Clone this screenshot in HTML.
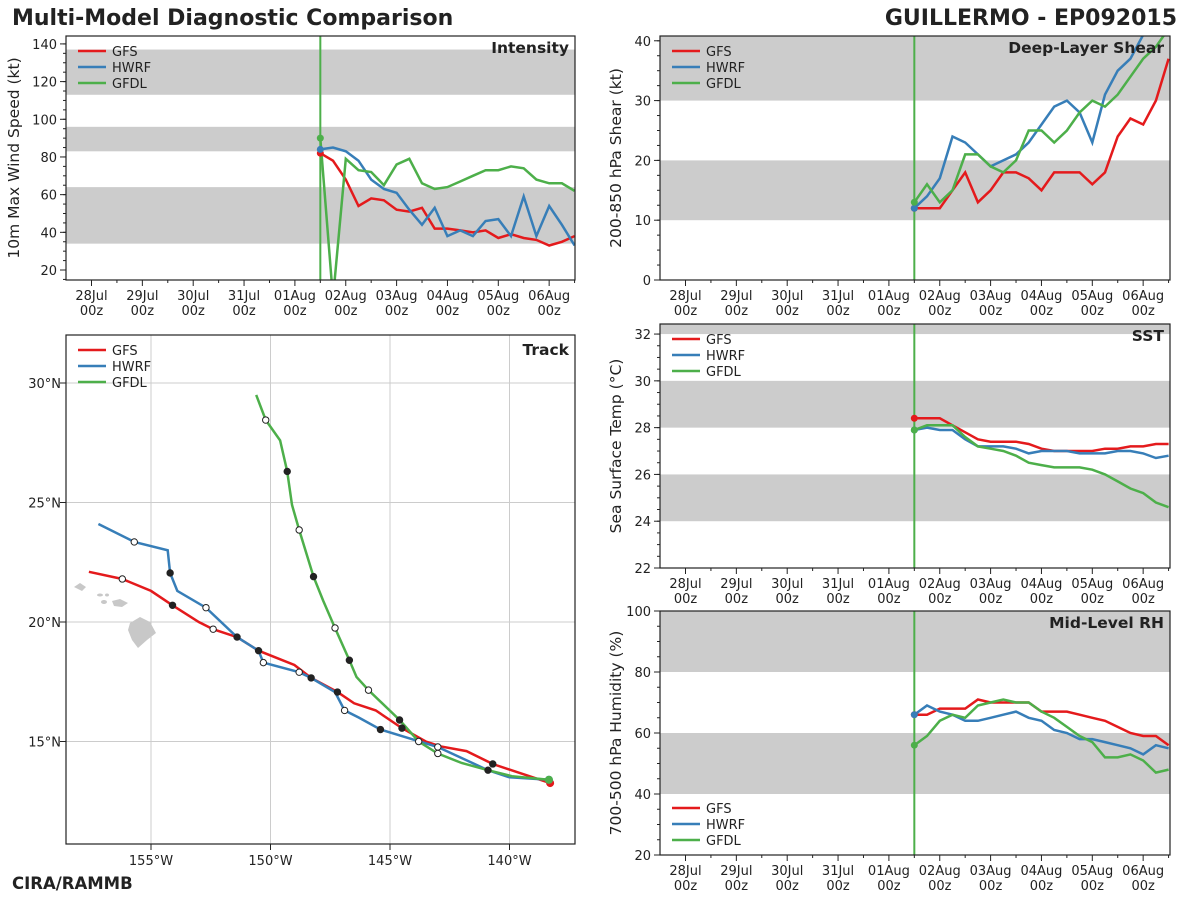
<!DOCTYPE html>
<html><head><meta charset="utf-8">
<style>
body{margin:0;background:#fff;}
svg{display:block;font-family:"DejaVu Sans","Liberation Sans",sans-serif;}
</style></head>
<body>
<svg id="fig" width="1200" height="900" viewBox="0 0 1200 900">
<text x="12" y="25" font-size="22" font-weight="bold" fill="#222">Multi-Model Diagnostic Comparison</text>
<text x="1177" y="25" font-size="22" font-weight="bold" fill="#222" text-anchor="end">GUILLERMO - EP092015</text>
<text x="12" y="889" font-size="16.5" font-weight="bold" fill="#222">CIRA/RAMMB</text>
</svg>
<script>
// ---- data ----
const dateLabels = ["28Jul","29Jul","30Jul","31Jul","01Aug","02Aug","03Aug","04Aug","05Aug","06Aug"];
const modelNames = ["GFS","HWRF","GFDL"];
const intGFS  = [82,78,68,54,58,57,52,51,53,42,42,41,40,41,37,39,37,36,33,35,38];
const intHWRF = [84,85,83,78,68,63,61,52,44,53,38,41,38,46,47,38,59,38,54,44,33];
const intGFDL = [90,5,79,73,72,65,76,79,66,63,64,67,70,73,73,75,74,68,66,66,62];
const shrGFS  = [12,12,12,15,18,13,15,18,18,17,15,18,18,18,16,18,24,27,26,30,37];
const shrHWRF = [12,14,17,24,23,21,19,20,21,23,26,29,30,28,23,31,35,37,41,42,44];
const shrGFDL = [13,16,13,15,21,21,19,18,20,25,25,23,25,28,30,29,31,34,37,39,42];
const sstGFS  = [28.4,28.4,28.4,28.1,27.8,27.5,27.4,27.4,27.4,27.3,27.1,27.0,27.0,27.0,27.0,27.1,27.1,27.2,27.2,27.3,27.3];
const sstHWRF = [27.9,28.0,27.9,27.9,27.5,27.2,27.2,27.2,27.1,26.9,27.0,27.0,27.0,26.9,26.9,26.9,27.0,27.0,26.9,26.7,26.8];
const sstGFDL = [27.9,28.1,28.1,28.1,27.6,27.2,27.1,27.0,26.8,26.5,26.4,26.3,26.3,26.3,26.2,26.0,25.7,25.4,25.2,24.8,24.6];
const rhGFS   = [66,66,68,68,68,71,70,70,70,70,67,67,67,66,65,64,62,60,59,59,56];
const rhHWRF  = [66,69,67,66,64,64,65,66,67,65,64,61,60,58,58,57,56,55,53,56,55];
const rhGFDL  = [56,59,64,66,65,69,70,71,70,70,67,65,62,59,57,52,52,53,51,47,48];
const trkGFSlon = [-157.6,-156.2,-155,-154.1,-153,-152.4,-151.4,-150.5,-149,-148.3,-147.2,-146.5,-145.6,-144.5,-143.5,-142.9,-141.8,-140.7,-138.3];
const trkGFSlat = [22.1,21.8,21.3,20.7,20.0,19.7,19.37,18.8,18.2,17.66,17.07,16.6,16.3,15.56,15.0,14.8,14.6,14.06,13.26];
const trkGFSmk  = [0,1,0,2,0,1,2,0,0,2,2,0,0,2,0,0,0,2,0];
const trkHWRFlon = [-157.2,-155.7,-154.3,-154.2,-153.9,-152.7,-151.4,-150.5,-150.3,-148.8,-148.3,-147.3,-146.9,-146.3,-145.4,-143.0,-140.9,-140.0,-138.35];
const trkHWRFlat = [24.1,23.35,23.0,22.05,21.3,20.6,19.37,18.8,18.3,17.9,17.66,17.07,16.3,16.0,15.5,14.77,13.8,13.5,13.4];
const trkHWRFmk  = [0,1,0,2,0,1,0,2,1,1,0,0,1,0,2,1,2,0,0];
const trkGFDLlon = [-150.6,-150.2,-149.6,-149.3,-149.1,-148.8,-148.2,-147.8,-147.3,-146.7,-146.4,-145.9,-144.6,-143.8,-143.0,-142.0,-140.9,-139.9,-138.35];
const trkGFDLlat = [29.5,28.45,27.6,26.3,24.9,23.85,21.9,20.9,19.75,18.4,17.7,17.15,15.9,15.0,14.5,14.1,13.8,13.55,13.4];
const trkGFDLmk  = [0,1,0,2,0,1,2,0,1,2,0,1,2,1,1,0,0,0,0];
const colors = {GFS:"#e41a1c",HWRF:"#377eb8",GFDL:"#4daf4a"};

const NS="http://www.w3.org/2000/svg";
const svg=document.getElementById('fig');
function mk(tag,attrs,parent){const e=document.createElementNS(NS,tag);for(const k in attrs)e.setAttribute(k,attrs[k]);(parent||svg).appendChild(e);return e;}

function timePanel(o){
  const {x0,x1,y0,y1,vmin,vmax,ticks,minor,bands,series,title,ylabel,legendBottom,name,ylx}=o;
  const g=mk('g',{});
  
  
  const day0=x0+25.5, dpx=50.85;
  const xs=d=>day0+d*dpx;
  const ys=v=>y1-(v-vmin)/(vmax-vmin)*(y1-y0);
  const cid='clip-'+name;
  const cp=mk('clipPath',{id:cid},g);mk('rect',{x:x0,y:y0,width:x1-x0,height:y1-y0},cp);
  bands.forEach(b=>{
    const r=mk('rect',{x:x0,y:ys(Math.min(b[1],vmax)),width:x1-x0,height:ys(b[0])-ys(Math.min(b[1],vmax)),fill:'#cccccc'},g);
    
    
  });
  const vx=xs(4.5);
  const vl=mk('line',{x1:vx,x2:vx,y1:y0,y2:y1,stroke:colors.GFDL,'stroke-width':2},g);
  
  
  const sg=mk('g',{'clip-path':`url(#${cid})`},g);
  series.forEach((vals,i)=>{
    const m=modelNames[i];
    const pts=vals.map((v,j)=>xs(4.5+j*0.25).toFixed(1)+','+ys(v).toFixed(1)).join(' ');
    const pl=mk('polyline',{points:pts,fill:'none',stroke:colors[m],'stroke-width':2.5},sg);
    
    
    const c=mk('circle',{cx:xs(4.5),cy:ys(vals[0]),r:3.5,fill:colors[m]},g);
    
    
  });
  mk('rect',{x:x0,y:y0,width:x1-x0,height:y1-y0,fill:'none',stroke:'#222','stroke-width':1.2},g);
  ticks.forEach(t=>{
    mk('line',{x1:x0-6,x2:x0,y1:ys(t),y2:ys(t),stroke:'#222'},g);
    const tx=mk('text',{x:x0-9,y:ys(t)+5,'font-size':13,'text-anchor':'end',fill:'#222'},g);
    tx.textContent=t;
    
    
  });
  for(let v=Math.ceil(vmin/minor)*minor;v<=vmax;v+=minor){mk('line',{x1:x0-3,x2:x0,y1:ys(v),y2:ys(v),stroke:'#222'},g);}
  dateLabels.forEach((d,i)=>{
    const x=xs(i);
    mk('line',{x1:x,x2:x,y1:y1,y2:y1+6,stroke:'#222'},g);
    mk('line',{x1:x+dpx/2,x2:x+dpx/2,y1:y1,y2:y1+3,stroke:'#222'},g);
    const t=mk('text',{x:x,y:y1+20,'font-size':13,'text-anchor':'middle',fill:'#222'},g);
    t.textContent=d;
    
    
    const t2=mk('text',{x:x,y:y1+35,'font-size':13,'text-anchor':'middle',fill:'#222'},g);
    t2.textContent='00z';
  });
  const yl=mk('text',{transform:`translate(${ylx},${(y0+y1)/2}) rotate(-90)`,'font-size':15.5,'text-anchor':'middle',fill:'#222'},g);
  yl.textContent=ylabel;
  
  
  const tt=mk('text',{x:x1-6,y:y0+17,'font-size':15.5,'font-weight':'bold','text-anchor':'end',fill:'#222'},g);
  tt.textContent=title;
  
  
  legend(g,x0+12,legendBottom?y1-47:y0+15);
}
function legend(g,x,y){
  modelNames.forEach((m,i)=>{
    const le=mk('g',{},g);
    
    
    mk('line',{x1:x,x2:x+28,y1:y+i*16,y2:y+i*16,stroke:colors[m],'stroke-width':2.5},le);
    const t=mk('text',{x:x+34,y:y+i*16+5,'font-size':13,fill:'#222'},le);
    t.textContent=m;
  });
}
timePanel({name:'intensity',x0:66,x1:575,y0:36,y1:280,vmin:14.7,vmax:144.2,ticks:[20,40,60,80,100,120,140],minor:5,ylx:19,
  bands:[[34,64],[83,96],[113,137]],series:[intGFS,intHWRF,intGFDL],title:'Intensity',ylabel:'10m Max Wind Speed (kt)'});
timePanel({name:'shear',x0:660,x1:1170,y0:36,y1:280,vmin:0,vmax:40.8,ticks:[0,10,20,30,40],minor:2.5,ylx:621,
  bands:[[10,20],[30,41]],series:[shrGFS,shrHWRF,shrGFDL],title:'Deep-Layer Shear',ylabel:'200-850 hPa Shear (kt)'});
timePanel({name:'sst',x0:660,x1:1170,y0:324,y1:568,vmin:22,vmax:32.43,ticks:[22,24,26,28,30,32],minor:0.5,ylx:621,
  bands:[[24,26],[28,30],[32,33]],series:[sstGFS,sstHWRF,sstGFDL],title:'SST',ylabel:'Sea Surface Temp (°C)'});
timePanel({name:'rh',x0:660,x1:1170,y0:611,y1:855,vmin:20,vmax:100,ticks:[20,40,60,80,100],minor:5,ylx:621,
  bands:[[40,60],[80,100]],series:[rhGFS,rhHWRF,rhGFDL],title:'Mid-Level RH',ylabel:'700-500 hPa Humidity (%)',legendBottom:true});

// ---- track panel ----
(function(){
  const x0=66,x1=575,y0=335,y1=844;
  const g=mk('g',{});
  
  
  const lx=lon=>151+(lon+155)*23.9;
  const ly=lat=>383-(lat-30)*23.9;
  [-155,-150,-145,-140].forEach(l=>{
    mk('line',{x1:lx(l),x2:lx(l),y1:y0,y2:y1,stroke:'#cccccc','stroke-width':1},g);
    mk('line',{x1:lx(l),x2:lx(l),y1:y1,y2:y1+6,stroke:'#222'},g);
    const t=mk('text',{x:lx(l),y:y1+21,'font-size':13,'text-anchor':'middle',fill:'#222'},g);
    t.textContent=(-l)+'°W';
    
    
  });
  [15,20,25,30].forEach(l=>{
    mk('line',{x1:x0,x2:x1,y1:ly(l),y2:ly(l),stroke:'#cccccc','stroke-width':1},g);
    mk('line',{x1:x0-6,x2:x0,y1:ly(l),y2:ly(l),stroke:'#222'},g);
    const t=mk('text',{x:x0-5,y:ly(l)+5,'font-size':13,'text-anchor':'end',fill:'#222'},g);
    t.textContent=l+'°N';
    
    
  });
  const isl=mk('g',{fill:'#c8c8c8'},g);
  
  
  mk('path',{d:'M130,623 L140,617 L150,622 L156,633 L147,640 L138,648 L132,640 L128,630 Z'},isl);
  mk('path',{d:'M112,601 L120,599 L128,603 L122,607 L114,606 Z'},isl);
  mk('ellipse',{cx:104,cy:602,rx:3,ry:2},isl);
  mk('ellipse',{cx:100,cy:595,rx:3,ry:1.5},isl);
  mk('ellipse',{cx:107,cy:595,rx:2,ry:1.5},isl);
  mk('path',{d:'M74,587 L80,583 L86,587 L82,591 Z'},isl);
  const tracks=[[trkGFSlon,trkGFSlat,trkGFSmk],[trkHWRFlon,trkHWRFlat,trkHWRFmk],[trkGFDLlon,trkGFDLlat,trkGFDLmk]];
  tracks.forEach((tr,i)=>{
    const m=modelNames[i];
    const pts=tr[0].map((lo,j)=>lx(lo).toFixed(1)+','+ly(tr[1][j]).toFixed(1)).join(' ');
    const pl=mk('polyline',{points:pts,fill:'none',stroke:colors[m],'stroke-width':2.5},g);
    
    
  });
  tracks.forEach((tr,i)=>{
    tr[2].forEach((k,j)=>{
      if(!k)return;
      const c=mk('circle',{cx:lx(tr[0][j]),cy:ly(tr[1][j]),r:3.2,fill:k===2?'#222':'#fff',stroke:'#222','stroke-width':1},g);
      
      
    });
  });
  tracks.forEach((tr,i)=>{
    const n=tr[0].length-1;
    mk('circle',{cx:lx(tr[0][n]),cy:ly(tr[1][n]),r:4,fill:colors[modelNames[i]]},g);
  });
  mk('rect',{x:x0,y:y0,width:x1-x0,height:y1-y0,fill:'none',stroke:'#222','stroke-width':1.2},g);
  const tt=mk('text',{x:x1-6,y:y0+20,'font-size':15.5,'font-weight':'bold','text-anchor':'end',fill:'#222'},g);
  tt.textContent='Track';
  
  
  legend(g,x0+12,y0+15);
})();
</script>
</body></html>
